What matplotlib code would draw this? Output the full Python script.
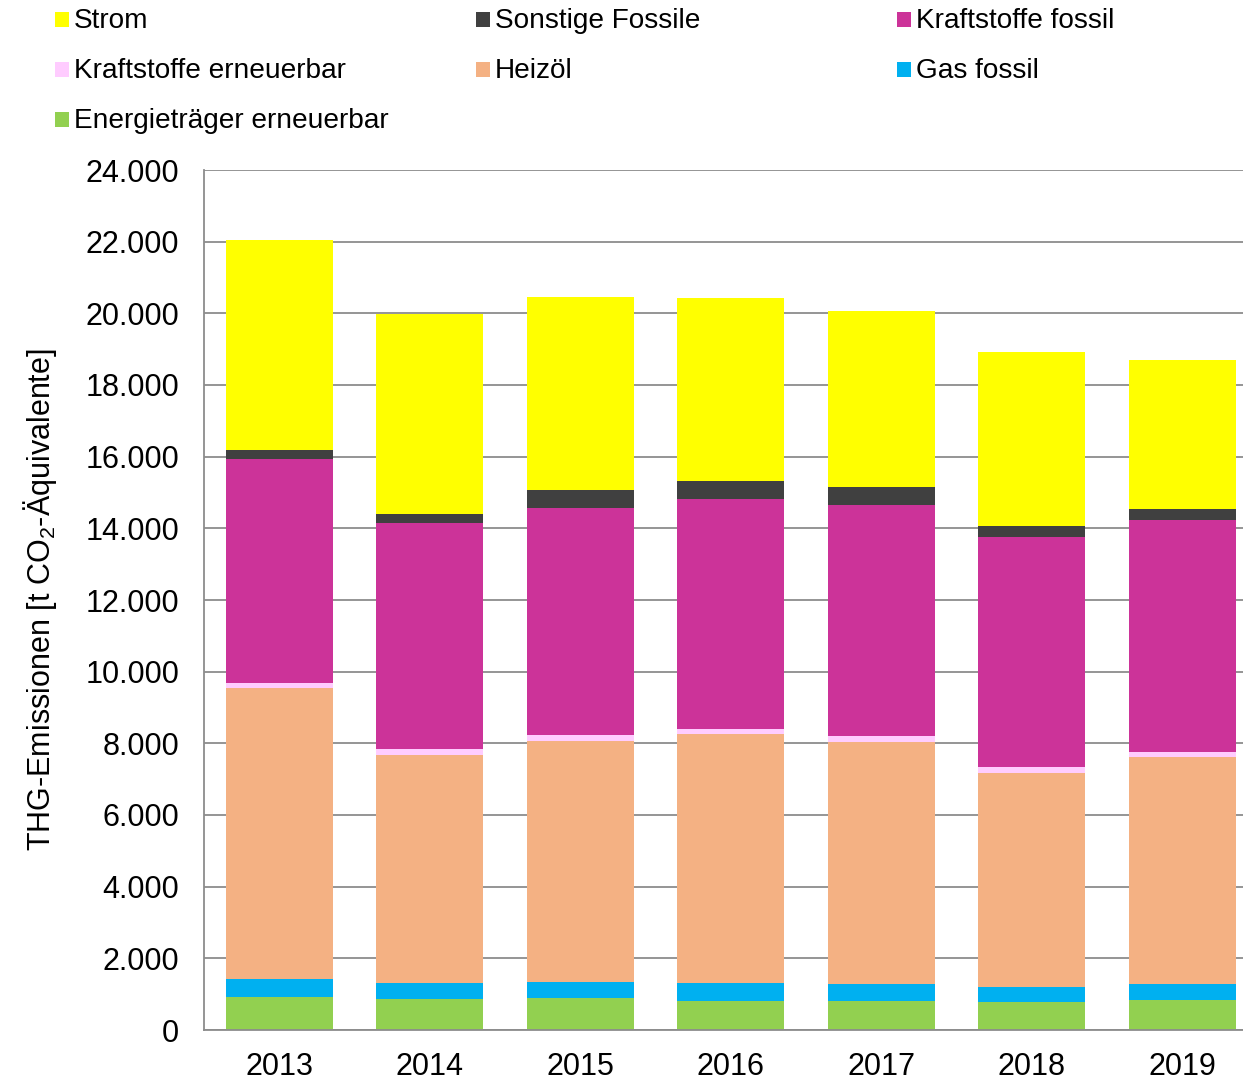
import matplotlib
matplotlib.use('Agg')
import matplotlib.pyplot as plt
from matplotlib.patches import Rectangle
from matplotlib.ticker import FuncFormatter
import numpy as np

plt.rcParams['font.family'] = ['Liberation Sans', 'DejaVu Sans']
plt.rcParams['mathtext.fontset'] = 'custom'
plt.rcParams['mathtext.rm'] = 'Liberation Sans'
plt.rcParams['mathtext.it'] = 'Liberation Sans'

# Daten (t CO2-Äquivalente), von unten nach oben gestapelt
jahre = ['2013', '2014', '2015', '2016', '2017', '2018', '2019']
energietraeger_ee = [910, 860, 890, 820, 810, 780, 830]
gas_fossil = [504, 443, 459, 483, 483, 429, 454]
heizoel = [8131, 6372, 6717, 6958, 6754, 5964, 6335]
kraftstoffe_ee = [148, 168, 158, 140, 149, 158, 131]
kraftstoffe_fossil = [6235, 6299, 6345, 6410, 6448, 6420, 6475]
sonstige_fossile = [259, 268, 502, 503, 511, 315, 307]
strom = [5870, 5565, 5386, 5116, 4912, 4856, 4167]

serien = [
    ('Energieträger erneuerbar', energietraeger_ee, '#92D050'),
    ('Gas fossil', gas_fossil, '#00B0F0'),
    ('Heizöl', heizoel, '#F4B183'),
    ('Kraftstoffe erneuerbar', kraftstoffe_ee, '#FFCCFF'),
    ('Kraftstoffe fossil', kraftstoffe_fossil, '#CC3399'),
    ('Sonstige Fossile', sonstige_fossile, '#404040'),
    ('Strom', strom, '#FFFF00'),
]

W, H = 1243, 1081
fig = plt.figure(figsize=(W / 100, H / 100), dpi=100)
# Plotbereich rechts leicht abgeschnitten wie im Original
ax = fig.add_axes([204 / W, 51 / H, 1053.5 / W, 860 / H])

x = np.arange(len(jahre))
unten = np.zeros(len(jahre))
farben = {}
for name, werte, farbe in serien:
    ax.bar(x, werte, bottom=unten, width=0.71, color=farbe, linewidth=0, zorder=3)
    unten += np.array(werte)
    farben[name] = farbe

ax.set_xlim(-0.5, 6.5)
ax.set_ylim(0, 24000)
ax.set_yticks(np.arange(0, 24001, 2000))
ax.yaxis.set_major_formatter(FuncFormatter(lambda v, p: f'{int(v):,}'.replace(',', '.')))
ax.set_xticks(x)
ax.set_xticklabels(jahre)
ax.tick_params(axis='both', length=0, labelsize=22)
ax.tick_params(axis='y', pad=18)
ax.tick_params(axis='x', pad=16)
ax.grid(axis='y', color='#8c8c8c', linewidth=1.3, zorder=0)
for s in ['top', 'right']:
    ax.spines[s].set_visible(False)
for s in ['left', 'bottom']:
    ax.spines[s].set_color('#8c8c8c')
    ax.spines[s].set_linewidth(1.3)
ax.spines['bottom'].set_zorder(4)

ax.set_ylabel(r'THG-Emissionen [t CO$_2$-Äquivalente]', fontsize=22, labelpad=19)

# Legende oben, zeilenweise in drei Spalten
legende = [
    ['Strom', 'Sonstige Fossile', 'Kraftstoffe fossil'],
    ['Kraftstoffe erneuerbar', 'Heizöl', 'Gas fossil'],
    ['Energieträger erneuerbar'],
]
spalten_x = [55, 476, 897]
zeilen_y = [19, 69, 119]
for zi, zeile in enumerate(legende):
    for si, name in enumerate(zeile):
        px, py = spalten_x[si], zeilen_y[zi]
        fig.add_artist(Rectangle((px / W, 1 - (py + 7.5) / H), 14 / W, 15 / H,
                                 transform=fig.transFigure, color=farben[name], linewidth=0))
        fig.text((px + 19) / W, 1 - (py + 2) / H, name, fontsize=20.2, va='center', ha='left')

fig.savefig('out.png', dpi=100)
